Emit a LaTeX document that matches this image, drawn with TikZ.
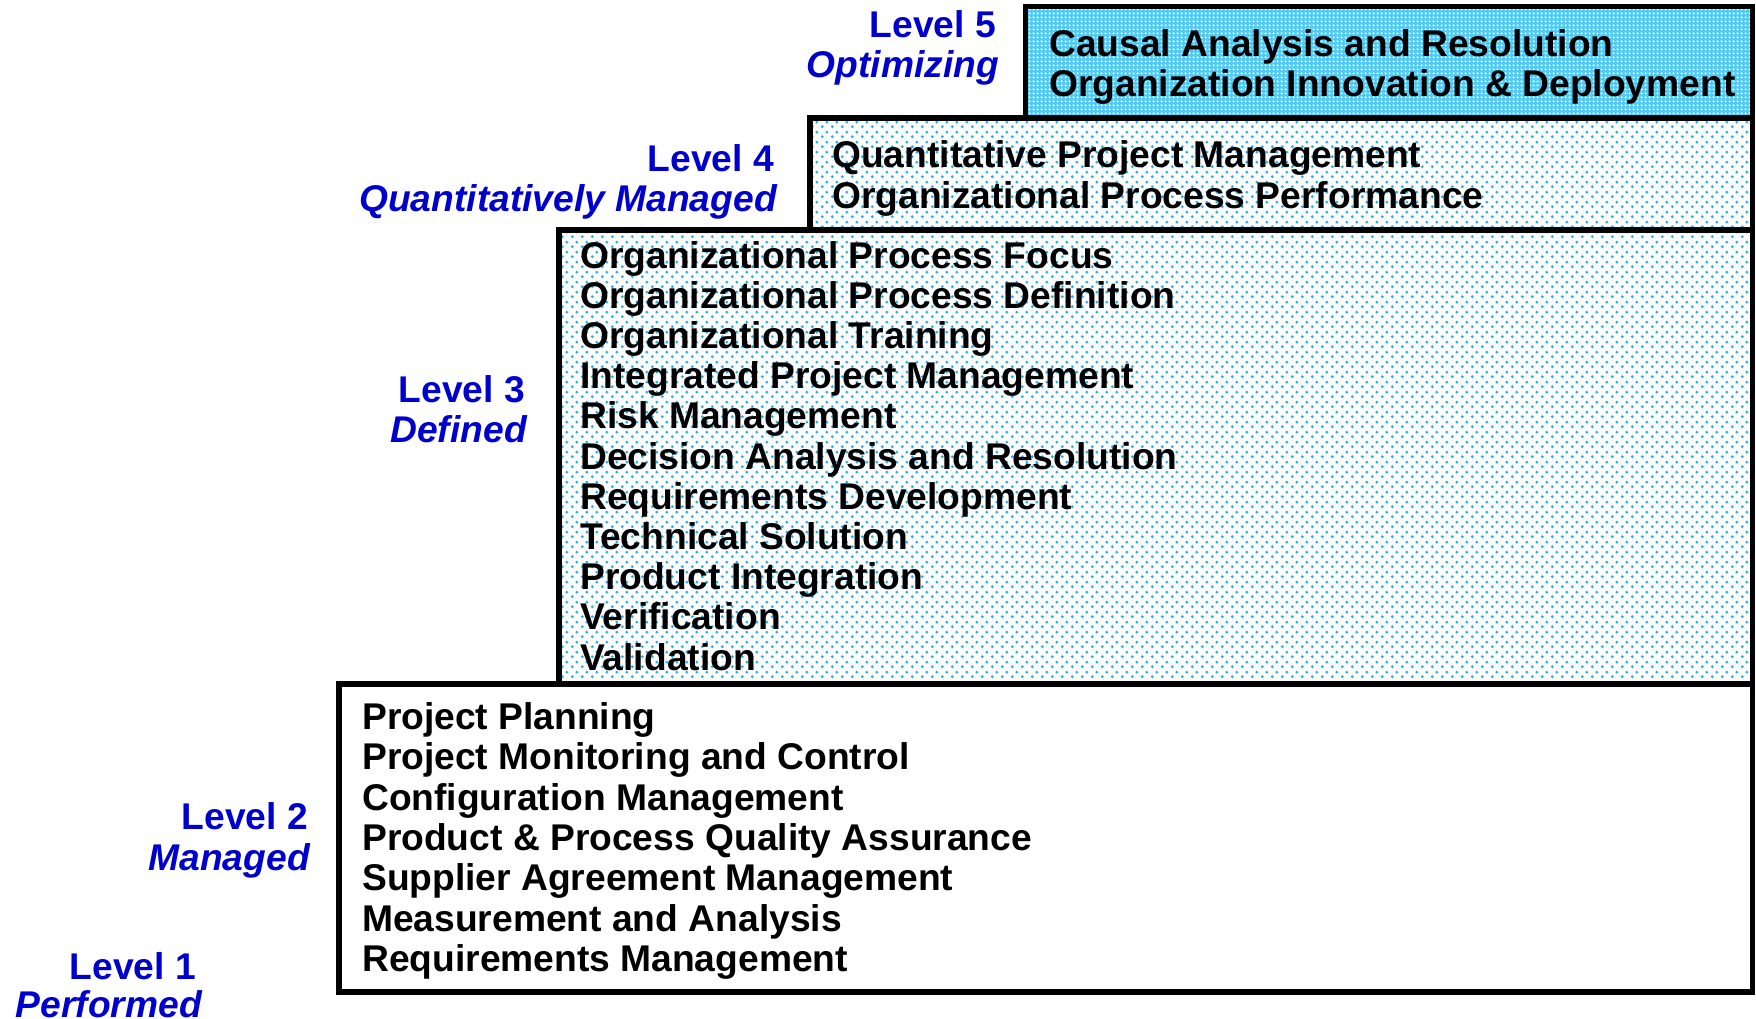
\documentclass[tikz,border=0pt]{standalone}
\usepackage{fontspec}
\setmainfont{Liberation Sans}
\usetikzlibrary{patterns}
\definecolor{lvlblue}{HTML}{0000CC}
\definecolor{dotcyan}{HTML}{22B0EC}
\definecolor{densecyan}{HTML}{55C8F2}
\pgfdeclarepatternformonly{cdots}{\pgfpointorigin}{\pgfqpoint{10pt}{10pt}}{\pgfqpoint{10pt}{10pt}}{%
  \pgfpathcircle{\pgfqpoint{2.5pt}{2.5pt}}{1.7pt}%
  \pgfpathcircle{\pgfqpoint{7.5pt}{7.5pt}}{1.7pt}%
  \pgfusepath{fill}}
\pgfdeclarepatternformonly{wdots}{\pgfpointorigin}{\pgfqpoint{4pt}{4pt}}{\pgfqpoint{4pt}{4pt}}{%
  \pgfpathcircle{\pgfqpoint{2pt}{2pt}}{1.5pt}%
  \pgfusepath{fill}}
\tikzset{
  boxline/.style={draw=black, line width=5.5pt},
  item/.style={anchor=base west, inner sep=0pt, font=\fontsize{37.2}{40}\selectfont\bfseries},
  lvl/.style={anchor=base east, inner sep=0pt, text=lvlblue, font=\fontsize{37.2}{40}\selectfont\bfseries},
  lvlname/.style={anchor=base east, inner sep=0pt, text=lvlblue, font=\fontsize{37.2}{40}\selectfont\bfseries\itshape},
}
\begin{document}
\begin{tikzpicture}[x=1pt,y=-1pt]
\useasboundingbox (0,0) rectangle (1756,1019);
% Level 2 box
\fill[white] (339,684) rectangle (1752.5,992);
% Level 3 box
\fill[white] (559,230) rectangle (1752.5,684);
\fill[pattern=cdots, pattern color=dotcyan] (559,230) rectangle (1752.5,684);
% Level 4 box
\fill[white] (810,118) rectangle (1752.5,230);
\fill[pattern=cdots, pattern color=dotcyan] (810,118) rectangle (1752.5,230);
% Level 5 box
\fill[densecyan] (1025.5,6.5) rectangle (1752.5,118);
\fill[pattern=wdots, pattern color=white] (1025.5,6.5) rectangle (1752.5,118);
% outlines
\draw[boxline] (339,684) rectangle (1752.5,992);
\draw[boxline] (559,230) rectangle (1752.5,684);
\draw[boxline] (810,118) rectangle (1752.5,230);
\draw[boxline] (1025.5,6.5) rectangle (1752.5,118);
% Level labels
\node[lvl] (l5) at (996,38) {Level 5};
\node[lvlname] (l5n) at (999,78) {Optimizing};
\node[lvl] (l4) at (774,172) {Level 4};
\node[lvlname] (l4n) at (777,212) {Quantitatively Managed};
\node[lvl] (l3) at (525,402) {Level 3};
\node[lvlname] (l3n) at (527,442) {Defined};
\node[lvl] (l2) at (308,829) {Level 2};
\node[lvlname] (l2n) at (310,870) {Managed};
\node[lvl] (l1) at (196,979) {Level 1};
\node[lvlname] (l1n) at (202,1017) {Performed};
% Level 5 items
\node[item] (a1) at (1049,56.5) {Causal Analysis and Resolution};
\node[item] (a2) at (1049,96.5) {Organization Innovation \& Deployment};
% Level 4 items
\node[item] (b1) at (832,167.5) {Quantitative Project Management};
\node[item] (b2) at (832,209) {Organizational Process Performance};
% Level 3 items
\node[item] (c1) at (580,268) {Organizational Process Focus};
\node[item] (c2) at (580,308.2) {Organizational Process Definition};
\node[item] (c3) at (580,348.4) {Organizational Training};
\node[item] (c4) at (580,388.6) {Integrated Project Management};
\node[item] (c5) at (580,428.8) {Risk Management};
\node[item] (c6) at (580,469) {Decision Analysis and Resolution};
\node[item] (c7) at (580,509.2) {Requirements Development};
\node[item] (c8) at (580,549.4) {Technical Solution};
\node[item] (c9) at (580,589.6) {Product Integration};
\node[item] (c10) at (580,629.8) {Verification};
\node[item] (c11) at (580,670) {Validation};
% Level 2 items
\node[item] (d1) at (362,729.5) {Project Planning};
\node[item] (d2) at (362,769.8) {Project Monitoring and Control};
\node[item] (d3) at (362,810.1) {Configuration Management};
\node[item] (d4) at (362,850.4) {Product \& Process Quality Assurance};
\node[item] (d5) at (362,890.7) {Supplier Agreement Management};
\node[item] (d6) at (362,931) {Measurement and Analysis};
\node[item] (d7) at (362,971.3) {Requirements Management};
\end{tikzpicture}
\end{document}
